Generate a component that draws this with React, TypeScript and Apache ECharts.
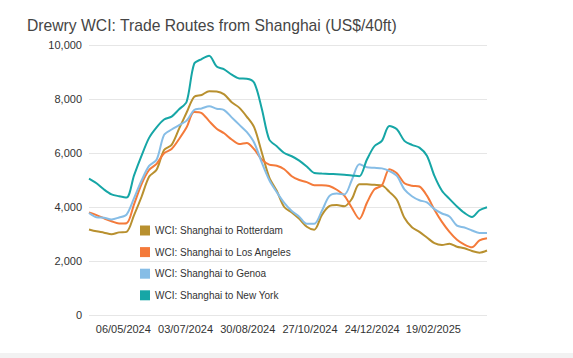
import React, { useEffect, useRef } from "react";
import * as echarts from "echarts";

const weeks: string[] = [
  "2024-04-04", "2024-04-11", "2024-04-18", "2024-04-25",
  "2024-05-02", "2024-05-09", "2024-05-16", "2024-05-23", "2024-05-30",
  "2024-06-06", "2024-06-13", "2024-06-20", "2024-06-27",
  "2024-07-04", "2024-07-11", "2024-07-18", "2024-07-25",
  "2024-08-01", "2024-08-08", "2024-08-15", "2024-08-22", "2024-08-29",
  "2024-09-05", "2024-09-12", "2024-09-19", "2024-09-26",
  "2024-10-03", "2024-10-10", "2024-10-17", "2024-10-24", "2024-10-31",
  "2024-11-07", "2024-11-14", "2024-11-21", "2024-11-28",
  "2024-12-05", "2024-12-12", "2024-12-19", "2024-12-26",
  "2025-01-02", "2025-01-09", "2025-01-16", "2025-01-23", "2025-01-30",
  "2025-02-06", "2025-02-13", "2025-02-20", "2025-02-27",
  "2025-03-06", "2025-03-13", "2025-03-20", "2025-03-27",
  "2025-04-03", "2025-04-10",
];

const rotterdam: number[] = [
  3170, 3100, 3050, 2990, 3060, 3080, 3700, 4380, 5120, 5380,
  6110, 6300, 6900, 7500, 8080, 8150, 8290, 8280, 8170, 7880,
  7680, 7350, 6950, 6030, 5100, 4600, 4000, 3800, 3560, 3270,
  3160, 3700, 4030, 4070, 4030, 4300, 4840, 4840, 4820, 4800,
  4560, 4270, 3600, 3250, 3080, 2870, 2660, 2590, 2640, 2530,
  2470, 2370, 2310, 2390,
];

const losAngeles: number[] = [
  3800, 3700, 3580, 3470, 3390, 3400, 4100, 4850, 5370, 5600,
  5990, 6150, 6520, 6950, 7520, 7480, 7180, 6900, 6730, 6500,
  6330, 6370, 6140, 5760, 5570, 5530, 5400, 5140, 5000, 4920,
  4810, 4810, 4780, 4640, 4420, 3970, 3560, 4150, 4650, 4800,
  5400, 5250, 4880, 4790, 4760, 4420, 3900, 3450, 3080, 2790,
  2610, 2510, 2760, 2840,
];

const genoa: number[] = [
  3780, 3620, 3600, 3540, 3610, 3720, 4330, 4980, 5520, 5750,
  6670, 6870, 7030, 7200, 7590, 7650, 7730, 7640, 7590, 7320,
  7050, 6780, 6380, 5650, 5000, 4550, 4150, 3850, 3640, 3380,
  3380, 3850, 4400, 4500, 4460, 5000, 5580, 5470, 5450, 5430,
  5330, 5150, 4650, 4400, 4250, 4170, 3920, 3760, 3650, 3310,
  3240, 3130, 3040, 3040,
];

const newYork: number[] = [
  5050, 4880, 4650, 4470, 4400, 4350, 5170, 5900, 6560, 6950,
  7240, 7350, 7620, 7900, 9300, 9480, 9600, 9200, 9100, 8900,
  8760, 8750, 8600, 7650, 6500, 6250, 6000, 5880, 5720, 5500,
  5260, 5240, 5225, 5210, 5190, 5170, 5140, 5750, 6250, 6450,
  7000, 6880, 6450, 6300, 6200, 5900, 5150, 4600, 4300, 4020,
  3780, 3630, 3880, 3990,
];

const seriesNames: string[] = [
  "WCI: Shanghai to Rotterdam",
  "WCI: Shanghai to Los Angeles",
  "WCI: Shanghai to Genoa",
  "WCI: Shanghai to New York",
];

const xTickLabels: string[] = [
  "06/05/2024", "03/07/2024", "30/08/2024", "27/10/2024", "24/12/2024", "19/02/2025",
];

const colors = ["#B8902F", "#F47A3A", "#86BDE6", "#16A6A6"];

const ORIGIN = Date.UTC(2024, 3, 4);
const isoOffset = (s: string) => {
  const [y, m, d] = s.split("-").map(Number);
  return Math.round((Date.UTC(y, m - 1, d) - ORIGIN) / 86400000);
};
const dmyOffset = (s: string) => {
  const [d, m, y] = s.split("/").map(Number);
  return Math.round((Date.UTC(y, m - 1, d) - ORIGIN) / 86400000);
};

const FONT = "'Liberation Sans', Arial, Helvetica, sans-serif";

export default function App() {
  const ref = useRef<HTMLDivElement>(null);

  useEffect(() => {
    if (!ref.current) return;
    const chart = echarts.init(ref.current, undefined, { renderer: "svg" });
    const xs = weeks.map(isoOffset);
    const tickVals = xTickLabels.map(dmyOffset);
    const all = [rotterdam, losAngeles, genoa, newYork];

    chart.setOption({
      animation: false,
      backgroundColor: "#ffffff",
      textStyle: { fontFamily: FONT },
      title: {
        text: "Drewry WCI: Trade Routes from Shanghai (US$/40ft)",
        left: 22,
        top: 12,
        textStyle: {
          fontFamily: FONT,
          fontSize: 15.7,
          fontWeight: "normal",
          color: "#454545",
        },
      },
      legend: {
        orient: "vertical",
        left: 135,
        top: 220.5,
        icon: "rect",
        itemWidth: 10,
        itemHeight: 10,
        itemGap: 11.6,
        data: seriesNames,
        textStyle: { fontFamily: FONT, fontSize: 10, color: "#333333", lineHeight: 10 },
      },
      grid: { left: 89, right: 86, top: 45, bottom: 43, containLabel: false },
      xAxis: {
        type: "value",
        min: xs[0],
        max: xs[xs.length - 1],
        axisLine: { show: false },
        axisTick: { show: false },
        splitLine: { show: false },
        axisLabel: {
          customValues: tickVals,
          margin: 8,
          fontFamily: FONT,
          fontSize: 11,
          color: "#333333",
          formatter: (v: number) => {
            const i = tickVals.indexOf(Math.round(v));
            return i >= 0 ? xTickLabels[i] : "";
          },
        },
      },
      yAxis: {
        type: "value",
        min: 0,
        max: 10000,
        interval: 2000,
        axisLine: { show: false },
        axisTick: { show: false },
        splitLine: { lineStyle: { color: "#e6e6e6", width: 1 } },
        axisLabel: {
          margin: 7,
          fontFamily: FONT,
          fontSize: 11,
          color: "#333333",
          formatter: (v: number) => v.toLocaleString("en-US"),
        },
      },
      series: all.map((vals, k) => ({
        name: seriesNames[k],
        type: "line",
        smooth: 0.3,
        showSymbol: false,
        symbol: "none",
        color: colors[k],
        lineStyle: { width: 2, color: colors[k] },
        data: vals.map((v, i) => [xs[i], v]),
        z: 2 + k,
      })),
      graphic: [
        {
          type: "rect",
          left: 0,
          top: 353,
          shape: { width: 573, height: 5 },
          style: { fill: "#f2f2f2" },
          silent: true,
        },
      ],
    });

    return () => chart.dispose();
  }, []);

  return (
    <div
      ref={ref}
      style={{ position: "absolute", left: 0, top: 0, width: 573, height: 358 }}
    />
  );
}
